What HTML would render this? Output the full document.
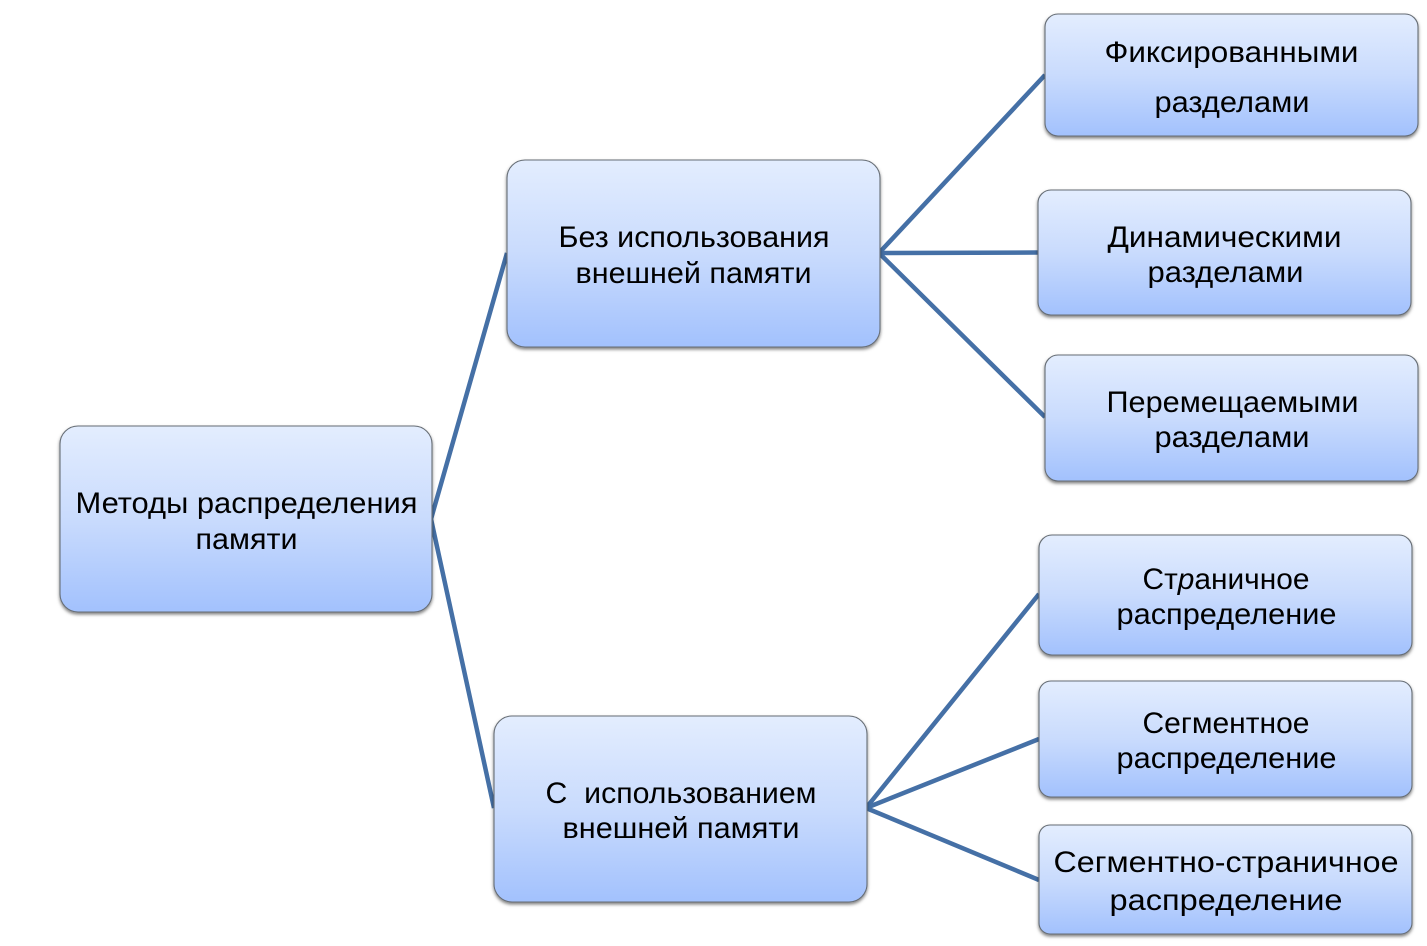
<!DOCTYPE html>
<html lang="ru">
<head>
<meta charset="utf-8">
<title>Методы распределения памяти</title>
<style>
html,body{margin:0;padding:0;background:#fff;width:1427px;height:946px;overflow:hidden}
svg{display:block}
text{font-family:"Liberation Sans",sans-serif;font-size:30px;fill:#000}
.b{fill:url(#g);stroke:#666d75;stroke-width:1.100;filter:url(#s)}
.l{stroke:#4570a6;stroke-width:4.500;fill:none}
</style>
</head>
<body>
<svg width="1427" height="946" viewBox="0 0 1427 946" xmlns="http://www.w3.org/2000/svg">
<defs>
<linearGradient id="g" x1="0" y1="0" x2="0" y2="1">
<stop offset="0" stop-color="#e3edfe"/>
<stop offset="0.5" stop-color="#c9dbfd"/>
<stop offset="1" stop-color="#a2c1fd"/>
</linearGradient>
<filter id="s" x="-5%" y="-5%" width="110%" height="115%">
<feDropShadow dx="0" dy="2" stdDeviation="1.500" flood-color="#000" flood-opacity="0.500"/>
</filter>
</defs>

<path class="l" d="M431 519 L507 253 M431 519 L494 808"/>
<path class="l" d="M879 253 L1045 75 M879 253 L1038 252.500 M879 253 L1045 417"/>
<path class="l" d="M866 808 L1039 594 M866 808 L1039 739 M866 808 L1039 880"/>

<rect class="b" x="60" y="426" width="372" height="186" rx="18"/>
<rect class="b" x="507" y="160" width="373" height="187" rx="18"/>
<rect class="b" x="494" y="716" width="373" height="186" rx="18"/>
<rect class="b" x="1045" y="14" width="373" height="122" rx="13"/>
<rect class="b" x="1038" y="190" width="373" height="125" rx="13"/>
<rect class="b" x="1045" y="355" width="373" height="126" rx="13"/>
<rect class="b" x="1039" y="535" width="373" height="120" rx="13"/>
<rect class="b" x="1039" y="681" width="373" height="116" rx="12"/>
<rect class="b" x="1039" y="825" width="373" height="109" rx="11"/>

<text x="75.500" y="513" textLength="342" lengthAdjust="spacingAndGlyphs">Методы распределения</text>
<text x="195.500" y="549" textLength="102" lengthAdjust="spacingAndGlyphs">памяти</text>
<text x="558.500" y="247" textLength="271" lengthAdjust="spacingAndGlyphs">Без использования</text>
<text x="575.500" y="283" textLength="236" lengthAdjust="spacingAndGlyphs">внешней памяти</text>
<text x="545.500" y="803" textLength="271" lengthAdjust="spacingAndGlyphs" xml:space="preserve">С  использованием</text>
<text x="562.500" y="838" textLength="237" lengthAdjust="spacingAndGlyphs">внешней памяти</text>
<text x="1104.500" y="62" textLength="254" lengthAdjust="spacingAndGlyphs">Фиксированными</text>
<text x="1154.500" y="112" textLength="155" lengthAdjust="spacingAndGlyphs">разделами</text>
<text x="1107.500" y="247" textLength="234" lengthAdjust="spacingAndGlyphs">Динамическими</text>
<text x="1147.500" y="282" textLength="156" lengthAdjust="spacingAndGlyphs">разделами</text>
<text x="1106.500" y="412" textLength="252" lengthAdjust="spacingAndGlyphs">Перемещаемыми</text>
<text x="1154.500" y="447" textLength="155" lengthAdjust="spacingAndGlyphs">разделами</text>
<text x="1142.500" y="589" textLength="167" lengthAdjust="spacingAndGlyphs">Ст<tspan font-style="italic">р</tspan>аничное</text>
<text x="1116.500" y="624" textLength="220" lengthAdjust="spacingAndGlyphs">распределение</text>
<text x="1142.500" y="733" textLength="167" lengthAdjust="spacingAndGlyphs">Сегментное</text>
<text x="1116.500" y="768" textLength="220" lengthAdjust="spacingAndGlyphs">распределение</text>
<text x="1053.500" y="872" textLength="345" lengthAdjust="spacingAndGlyphs">Сегментно-страничное</text>
<text x="1109.500" y="910" textLength="233" lengthAdjust="spacingAndGlyphs">распределение</text>
</svg>
</body>
</html>
